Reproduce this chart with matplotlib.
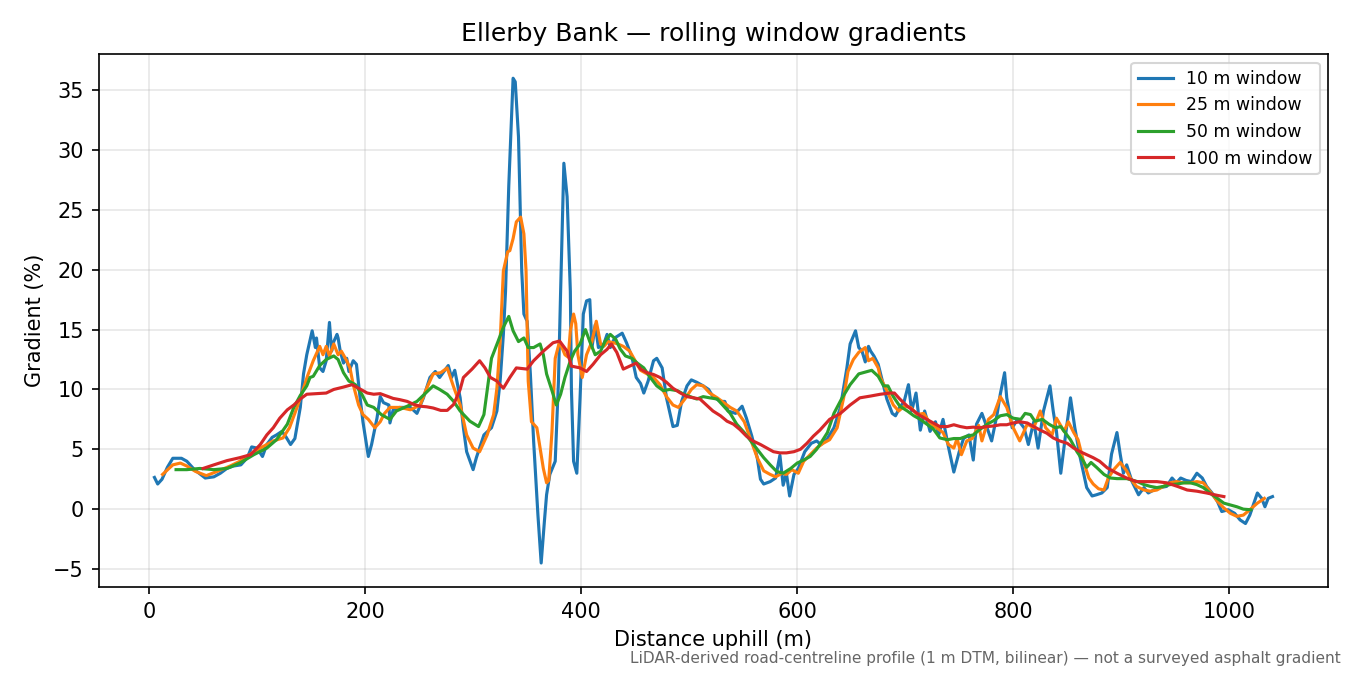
import matplotlib
matplotlib.use("Agg")
import matplotlib.pyplot as plt

# gradient profiles (distance uphill in m, gradient in %)
dist_10 = [5, 8, 12, 17, 22, 30, 35, 42, 52, 60, 66, 72, 78, 85, 91, 95, 100, 105, 109, 114,
           118, 123, 127, 131, 135, 140, 143, 146, 151, 154, 155, 158, 161, 164, 167, 169, 171, 174, 175, 177,
           180, 183, 185, 189, 192, 195, 198, 203, 206, 211, 214, 217, 222, 223, 226, 232, 242, 248, 254, 260,
           265, 269, 277, 280, 283, 288, 291, 294, 300, 303, 310, 317, 322, 325, 328, 330, 333, 337, 339, 342,
           345, 347, 350, 353, 356, 360, 363, 366, 368, 371, 376, 379, 381, 384, 387, 390, 391, 393, 396, 399,
           402, 405, 408, 410, 413, 416, 421, 424, 427, 431, 438, 442, 447, 451, 455, 458, 462, 467, 470, 475,
           479, 485, 489, 493, 498, 502, 507, 513, 518, 522, 529, 533, 536, 543, 549, 553, 558, 563, 566, 569,
           575, 580, 584, 587, 590, 593, 597, 601, 607, 613, 618, 622, 628, 634, 640, 646, 649, 654, 657, 660,
           663, 666, 668, 671, 675, 678, 683, 688, 691, 695, 699, 703, 706, 710, 714, 718, 723, 728, 731, 735,
           740, 745, 750, 754, 759, 763, 766, 771, 775, 780, 785, 788, 792, 794, 799, 804, 810, 814, 819, 823,
           828, 834, 837, 840, 844, 848, 853, 857, 862, 868, 873, 877, 882, 887, 891, 896, 899, 902, 905, 910,
           916, 921, 925, 930, 936, 942, 947, 951, 955, 960, 965, 970, 975, 979, 984, 989, 993, 999, 1005, 1010,
           1015, 1019, 1026, 1030, 1033, 1036, 1040]
grad_10 = [2.65, 2.1, 2.5, 3.5, 4.25, 4.25, 4.0, 3.3, 2.6, 2.7, 3.0, 3.4, 3.6, 3.7, 4.3, 5.2, 5.1, 4.4, 5.4, 6.0,
           6.2, 6.5, 6.0, 5.4, 5.9, 8.5, 11.3, 12.9, 14.9, 13.5, 14.3, 11.8, 11.5, 12.4, 15.6, 13.2, 14.0, 14.6, 14.3, 13.2,
           12.2, 12.6, 11.5, 12.4, 12.1, 9.6, 7.3, 4.4, 5.4, 7.6, 9.4, 8.9, 8.7, 7.2, 8.3, 8.5, 8.5, 8.0, 9.3, 11.0,
           11.5, 11.0, 12.0, 11.0, 11.6, 9.3, 6.8, 4.8, 3.3, 4.3, 6.2, 6.8, 8.2, 10.7, 14.6, 18.2, 27.0, 36.0, 35.7, 31.1,
           19.9, 16.3, 15.7, 11.3, 5.7, -0.5, -4.5, -1.0, 1.2, 2.9, 4.0, 10.7, 18.2, 28.9, 26.1, 18.2, 10.0, 4.0, 3.0, 9.3,
           16.3, 17.4, 17.5, 13.5, 15.4, 13.5, 13.8, 14.6, 13.5, 14.3, 14.7, 13.9, 12.7, 11.0, 10.5, 9.7, 10.7, 12.4, 12.6, 11.8,
           9.3, 6.9, 7.0, 9.0, 10.3, 10.8, 10.6, 10.3, 10.0, 9.4, 9.0, 9.0, 8.2, 8.0, 8.6, 7.6, 6.1, 4.3, 2.5, 2.1,
           2.3, 2.6, 4.5, 2.0, 3.0, 1.1, 2.9, 3.4, 4.8, 5.5, 5.7, 5.4, 5.9, 6.8, 8.5, 11.8, 13.8, 14.9, 13.5, 13.2,
           12.3, 13.6, 13.2, 12.8, 12.1, 11.0, 9.2, 8.0, 7.8, 8.5, 9.0, 10.4, 8.2, 9.7, 6.6, 8.2, 6.5, 7.3, 6.2, 7.5,
           5.2, 3.1, 4.8, 5.9, 6.2, 4.1, 7.1, 8.0, 7.0, 5.7, 7.9, 9.6, 11.4, 9.3, 6.8, 7.5, 6.8, 5.4, 7.3, 5.1,
           8.2, 10.3, 8.2, 6.5, 3.0, 5.9, 9.3, 6.8, 4.3, 1.8, 1.1, 1.2, 1.35, 1.8, 4.6, 6.4, 4.6, 3.0, 3.7, 2.3,
           1.2, 1.8, 1.35, 1.6, 1.8, 1.9, 2.6, 2.2, 2.6, 2.4, 2.3, 3.0, 2.6, 1.9, 1.35, 0.65, -0.2, -0.05, -0.35, -0.9,
           -1.2, -0.5, 1.35, 0.9, 0.2, 0.9, 1.05]

dist_25 = [12.5, 22, 29, 35, 43, 53, 63, 75, 84, 93, 103, 115, 124, 130, 137, 143, 147, 152, 158, 161,
           164, 167, 171, 175, 178, 183, 186, 189, 194, 198, 203, 209, 214, 218, 223, 232, 242, 251, 257, 263,
           270, 276, 282, 288, 294, 300, 306, 313, 319, 322, 325, 328, 332, 334, 337, 340, 344, 347, 349, 351,
           354, 359, 362, 365, 368, 370, 373, 376, 380, 385, 388, 390, 393, 395, 397, 401, 405, 410, 414, 418,
           421, 425, 430, 434, 439, 445, 450, 455, 461, 467, 473, 479, 485, 490, 496, 502, 507, 513, 519, 526,
           532, 538, 544, 551, 557, 563, 569, 575, 580, 586, 590, 595, 601, 606, 612, 618, 624, 630, 637, 643,
           647, 652, 657, 663, 666, 670, 675, 677, 683, 689, 694, 699, 705, 711, 717, 723, 729, 735, 740, 745,
           748, 752, 757, 762, 768, 771, 777, 782, 788, 794, 800, 806, 813, 819, 825, 830, 836, 840, 847, 851,
           856, 860, 865, 870, 874, 879, 884, 888, 893, 899, 905, 909, 914, 921, 927, 933, 939, 945, 951, 958,
           964, 970, 976, 982, 989, 995, 1001, 1007, 1013, 1019, 1026, 1032.5]
grad_25 = [2.9, 3.7, 3.85, 3.6, 3.15, 2.8, 3.15, 3.6, 4.0, 4.55, 5.1, 5.7, 5.95, 6.8, 8.5, 10.1, 11.2, 12.4, 13.6, 12.9,
           13.6, 12.8, 13.8, 12.9, 13.2, 12.4, 11.8, 10.4, 8.7, 7.9, 7.5, 6.8, 7.3, 8.0, 8.5, 8.5, 8.3, 8.7, 10.1, 11.3,
           11.4, 11.8, 10.2, 8.7, 6.2, 5.1, 4.8, 6.2, 7.9, 10.1, 14.0, 19.9, 21.5, 21.6, 22.6, 24.0, 24.4, 23.0, 19.9, 10.7,
           7.3, 6.8, 5.1, 3.4, 2.2, 2.4, 6.5, 12.6, 14.0, 12.9, 12.7, 14.9, 16.3, 15.5, 12.9, 11.0, 12.9, 14.0, 15.7, 13.8,
           13.6, 14.0, 13.9, 13.8, 13.6, 13.2, 12.4, 11.6, 11.3, 11.0, 10.4, 9.4, 8.7, 8.5, 9.2, 10.0, 10.4, 10.3, 9.7, 9.3,
           8.9, 8.5, 8.2, 7.3, 5.8, 4.3, 3.2, 2.9, 2.7, 3.0, 2.9, 3.3, 3.0, 4.0, 4.55, 5.1, 5.5, 5.8, 6.8, 9.3,
           11.5, 12.5, 13.1, 13.5, 12.4, 12.6, 11.8, 11.0, 9.9, 8.7, 8.2, 8.6, 8.5, 7.9, 8.0, 7.2, 6.8, 6.4, 5.4, 5.1,
           5.9, 4.55, 5.7, 5.9, 7.0, 5.7, 7.5, 7.9, 9.4, 8.5, 6.8, 5.7, 7.1, 6.8, 8.2, 6.8, 6.2, 7.6, 6.5, 7.3,
           6.4, 5.8, 4.0, 2.6, 2.1, 1.7, 1.6, 2.6, 3.3, 3.9, 3.2, 2.5, 1.9, 1.6, 1.5, 1.6, 1.9, 2.2, 2.3, 2.2,
           2.2, 2.3, 2.2, 1.5, 0.65, 0.1, -0.35, -0.6, -0.5, -0.05, 0.5, 0.9]

dist_50 = [25, 35, 47, 60, 72, 84, 97, 109, 118, 128, 134, 140, 146, 149, 152, 158, 164, 171, 175, 180,
           185, 191, 197, 202, 208, 215, 223, 229, 239, 248, 256, 263, 269, 276, 282, 288, 297, 305, 310, 313,
           317, 323, 328, 333, 337, 342, 347, 351, 356, 362, 365, 368, 373, 377, 381, 385, 390, 394, 399, 404,
           408, 413, 418, 422, 427, 432, 436, 441, 447, 452, 458, 464, 470, 476, 482, 489, 495, 501, 507, 513,
           519, 526, 532, 538, 544, 551, 557, 563, 569, 575, 581, 587, 594, 600, 606, 612, 618, 621, 628, 634,
           641, 649, 657, 665, 669, 675, 680, 684, 689, 695, 702, 708, 714, 720, 726, 732, 739, 745, 751, 757,
           763, 769, 776, 782, 788, 794, 800, 807, 811, 816, 820, 827, 833, 839, 844, 848, 853, 859, 865, 868,
           872, 877, 884, 890, 896, 905, 915, 921, 927, 933, 939, 945, 952, 958, 964, 970, 976, 982, 989, 995,
           1001, 1007, 1013, 1020]
grad_50 = [3.3, 3.3, 3.4, 3.3, 3.4, 3.85, 4.55, 5.1, 5.8, 7.1, 8.5, 9.5, 10.3, 11.0, 11.1, 12.0, 12.5, 12.8, 12.5, 11.4,
           10.7, 10.4, 9.6, 8.7, 8.5, 7.9, 7.5, 8.2, 8.6, 9.0, 9.7, 10.3, 10.0, 9.6, 9.0, 8.2, 7.35, 6.9, 7.9, 9.9,
           12.6, 14.0, 15.2, 16.1, 14.9, 14.0, 14.3, 13.5, 13.5, 13.8, 12.9, 11.3, 9.9, 8.7, 9.6, 11.0, 12.4, 13.2, 13.8, 15.0,
           14.0, 12.9, 13.2, 14.0, 14.6, 14.2, 13.4, 12.8, 12.6, 12.2, 11.8, 11.0, 10.3, 9.9, 10.0, 9.9, 9.6, 9.4, 9.2, 9.4,
           9.3, 9.2, 8.6, 8.0, 7.1, 6.4, 5.7, 5.0, 4.3, 3.7, 3.15, 3.0, 3.4, 3.85, 4.1, 4.4, 5.0, 5.4, 6.4, 8.0,
           9.2, 10.4, 11.3, 11.5, 11.6, 11.1, 10.3, 10.3, 9.4, 8.6, 8.2, 7.8, 7.5, 7.1, 6.7, 5.95, 5.8, 5.9, 5.9, 6.1,
           6.2, 6.65, 7.1, 7.4, 7.8, 7.9, 7.6, 7.5, 8.0, 7.9, 7.35, 7.5, 7.1, 6.8, 6.9, 6.4, 5.8, 4.8, 4.0, 3.5,
           3.9, 3.5, 2.9, 2.6, 2.55, 2.55, 2.3, 2.05, 1.9, 1.8, 1.9, 2.05, 2.1, 2.2, 2.2, 2.05, 1.8, 1.35, 0.9, 0.5,
           0.35, 0.2, 0.0, -0.05]

dist_100 = [50, 60, 72, 84, 94, 103, 109, 115, 121, 128, 134, 140, 146, 155, 164, 171, 180, 188, 194, 202,
            208, 214, 220, 226, 232, 239, 245, 251, 257, 263, 270, 276, 282, 288, 291, 299, 306, 311, 316, 322,
            328, 334, 340, 350, 356, 365, 374, 380, 387, 391, 399, 405, 411, 418, 424, 428, 433, 439, 445, 451,
            455, 461, 467, 473, 479, 485, 492, 498, 504, 510, 516, 522, 529, 535, 541, 547, 553, 559, 566, 572,
            578, 584, 590, 597, 603, 609, 615, 621, 630, 640, 649, 658, 668, 677, 686, 690, 695, 702, 708, 714,
            720, 726, 732, 739, 745, 751, 757, 763, 769, 776, 782, 788, 794, 800, 806, 813, 819, 825, 831, 837,
            843, 850, 856, 862, 868, 874, 880, 887, 896, 905, 914, 924, 933, 942, 952, 961, 970, 979, 989, 995]
grad_100 = [3.4, 3.7, 4.05, 4.3, 4.55, 5.4, 6.2, 6.8, 7.6, 8.3, 8.7, 9.2, 9.6, 9.65, 9.7, 10.0, 10.2, 10.4, 10.1, 9.7,
            9.6, 9.65, 9.45, 9.25, 9.15, 9.0, 8.75, 8.6, 8.55, 8.45, 8.25, 8.25, 8.75, 10.0, 11.0, 11.7, 12.4, 11.8, 11.0, 10.7,
            10.1, 11.0, 11.8, 11.7, 12.4, 13.2, 13.9, 14.05, 13.2, 11.95, 11.8, 11.5, 12.1, 12.9, 13.35, 13.8, 13.1, 11.7, 11.95, 12.2,
            11.7, 11.4, 11.25, 11.0, 10.6, 10.1, 9.7, 9.4, 9.3, 9.2, 8.7, 8.2, 7.8, 7.35, 7.1, 6.65, 6.1, 5.7, 5.4, 5.1,
            4.8, 4.7, 4.7, 4.8, 5.0, 5.5, 6.1, 6.6, 7.5, 8.0, 8.7, 9.3, 9.45, 9.6, 9.7, 9.7, 9.2, 8.6, 8.2, 7.8,
            7.5, 7.2, 6.9, 6.9, 7.05, 6.9, 6.8, 6.85, 6.8, 6.9, 6.95, 7.05, 7.05, 7.2, 7.3, 7.2, 6.9, 6.6, 6.35, 5.95,
            5.7, 5.5, 5.1, 4.8, 4.55, 4.3, 4.0, 3.45, 3.0, 2.6, 2.3, 2.3, 2.3, 2.2, 1.9, 1.6, 1.5, 1.35, 1.15, 1.05]

fig, ax = plt.subplots(figsize=(9, 4.5), dpi=150)
fig.subplots_adjust(left=0.073, right=0.984, top=0.92, bottom=0.130)

ax.plot(dist_10, grad_10, color="tab:blue", lw=1.5, label="10 m window")
ax.plot(dist_25, grad_25, color="tab:orange", lw=1.5, label="25 m window")
ax.plot(dist_50, grad_50, color="tab:green", lw=1.5, label="50 m window")
ax.plot(dist_100, grad_100, color="tab:red", lw=1.5, label="100 m window")

ax.set_title("Ellerby Bank — rolling window gradients", fontsize=12)
ax.set_xlabel("Distance uphill (m)")
ax.set_ylabel("Gradient (%)")
ax.grid(True, alpha=0.3)
ax.legend(loc="upper right", fontsize=8.3)

fig.text(0.993, 0.014,
         "LiDAR-derived road-centreline profile (1 m DTM, bilinear) — not a surveyed asphalt gradient",
         ha="right", va="bottom", fontsize=7.4, color="#666666")

fig.savefig("out.png", dpi=150)
